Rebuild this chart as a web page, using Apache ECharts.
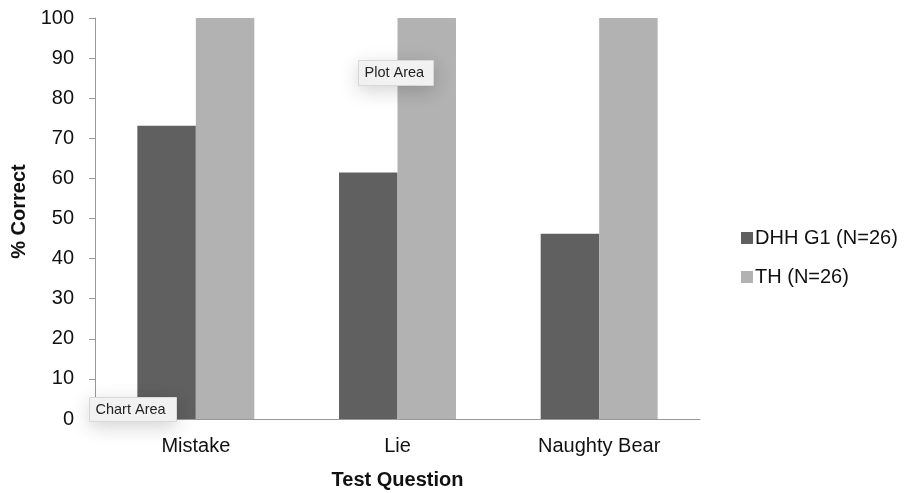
<!DOCTYPE html>
<html>
<head>
<meta charset="utf-8">
<script src="https://cdn.jsdelivr.net/npm/echarts@6/dist/echarts.min.js"></script>
<style>html,body{margin:0;padding:0;background:#fff;}#chart{width:908px;height:493px;}</style>
</head>
<body>
<div id="chart"></div>
<script>
var categories = ['Mistake', 'Lie', 'Naughty Bear'];
var dhhValues = [73.1, 61.5, 46.2];
var thValues = [100, 100, 100];
var seriesNames = ['DHH G1 (N=26)', 'TH (N=26)'];
var yTicks = {min: 0, max: 100, interval: 10};

var chart = echarts.init(document.getElementById('chart'));
var font = 'Liberation Sans, Arial, Helvetica, sans-serif';
chart.setOption({
  animation: false,
  textStyle: {fontFamily: font},
  grid: {left: 95, right: 208, top: 18, bottom: 74, containLabel: false, outerBoundsMode: 'none'},
  legend: {
    orient: 'vertical', left: 736, top: 223, itemWidth: 12, itemHeight: 12, itemGap: 19,
    icon: 'rect',
    textStyle: {fontSize: 20, color: '#111', fontFamily: font, padding: [0, 0, 0, -3]},
    data: seriesNames
  },
  xAxis: {
    type: 'category', data: categories,
    name: 'Test Question', nameLocation: 'middle', nameGap: 51,
    nameTextStyle: {fontSize: 20, fontWeight: 'bold', color: '#111', fontFamily: font},
    axisLine: {lineStyle: {color: '#999', width: 1}},
    axisTick: {show: false},
    axisLabel: {fontSize: 20, color: '#111', margin: 17, fontFamily: font}
  },
  yAxis: {
    type: 'value', min: yTicks.min, max: yTicks.max, interval: yTicks.interval,
    name: '% Correct', nameLocation: 'middle', nameGap: 61, nameRotate: 90,
    nameTextStyle: {fontSize: 20, fontWeight: 'bold', color: '#111', fontFamily: font, padding: [0, 0, 0, 14]},
    axisLine: {show: true, lineStyle: {color: '#999', width: 1}},
    axisTick: {show: true, length: 6, lineStyle: {color: '#999'}},
    splitLine: {show: false},
    axisLabel: {fontSize: 20, color: '#111', margin: 21, fontFamily: font}
  },
  series: [
    {name: seriesNames[0], type: 'bar', data: dhhValues, barGap: '0%', barCategoryGap: '42%',
     itemStyle: {color: '#606060'}},
    {name: seriesNames[1], type: 'bar', data: thValues, barGap: '0%', barCategoryGap: '42%',
     itemStyle: {color: '#b2b2b2'}}
  ],
  graphic: [
    {type: 'group', left: 358, top: 60, z: 100, children: [
      {type: 'rect', z: 100, shape: {x: 0, y: 0, width: 75, height: 25},
       style: {fill: '#f3f3f3', stroke: '#d8d8d8', lineWidth: 1, shadowBlur: 20, shadowColor: 'rgba(0,0,0,0.18)', shadowOffsetY: 5}},
      {type: 'text', z: 101, x: 6, y: 5, style: {text: 'Plot Area', fontSize: 14.5, fill: '#222', fontFamily: font}}
    ]},
    {type: 'group', left: 89, top: 397, z: 100, children: [
      {type: 'rect', z: 100, shape: {x: 0, y: 0, width: 87, height: 24},
       style: {fill: '#f3f3f3', stroke: '#d8d8d8', lineWidth: 1, shadowBlur: 20, shadowColor: 'rgba(0,0,0,0.18)', shadowOffsetY: 5}},
      {type: 'text', z: 101, x: 6, y: 5, style: {text: 'Chart Area', fontSize: 14.5, fill: '#222', fontFamily: font}}
    ]}
  ]
});
</script>
</body>
</html>
